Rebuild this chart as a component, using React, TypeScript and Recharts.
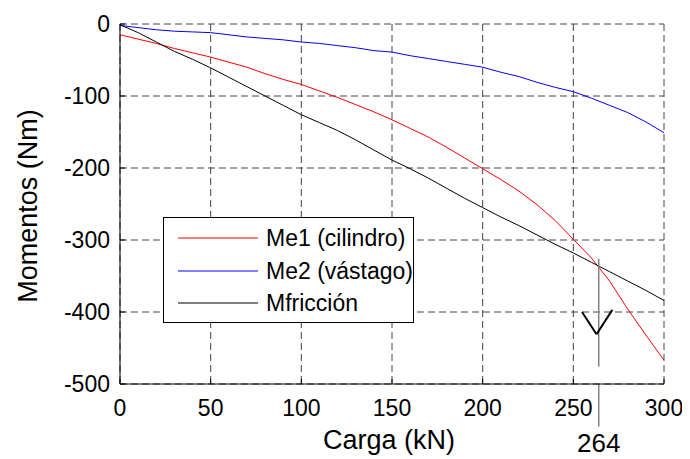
import React from 'react';
import {
  LineChart,
  Line,
  XAxis,
  YAxis,
  CartesianGrid,
  Legend,
  ReferenceLine,
  ReferenceDot,
} from 'recharts';

const carga = [0, 10, 20, 30, 40, 50, 60, 70, 80, 90, 100, 110, 120, 130, 140, 150, 160, 170, 180, 190, 200, 210, 220, 230, 240, 250, 260, 270, 280, 290, 300];
const me1 = [-15, -21, -27, -34, -40, -46, -53, -60, -69, -77, -84, -93, -102, -112, -122, -133, -145, -157, -171, -186, -201, -216, -232, -251, -273, -299, -325, -357, -396, -432, -467];
const me2 = [-2, -5, -8, -10, -11, -12, -15, -18, -20, -22, -25, -27, -30, -33, -37, -39, -44, -48, -52, -56, -60, -67, -73, -81, -88, -94, -103, -113, -123, -136, -151];
const mfric = [-1, -12, -25, -38, -49, -61, -74, -87, -100, -113, -126, -137, -148, -161, -175, -189, -201, -214, -228, -242, -255, -268, -280, -293, -306, -318, -331, -344, -357, -370, -384];

const xTicks = [0, 50, 100, 150, 200, 250, 300];
const yTicks = [-500, -400, -300, -200, -100, 0];
const seriesNames = ['Me1 (cilindro)', 'Me2 (vástago)', 'Mfricción'];
const markX = 264;
const markLabel = '264';

const data = carga.map((x, i) => ({ x, me1: me1[i], me2: me2[i], mf: mfric[i] }));

const FONT = '"Liberation Sans", Arial, sans-serif';

const LegendBox = (props: any) => {
  const payload = props.payload || [];
  return (
    <div
      style={{
        width: 249,
        height: 104,
        border: '1px solid #000',
        background: '#fff',
        position: 'relative',
        fontFamily: FONT,
        fontSize: 23,
        color: '#000',
      }}
    >
      {payload.map((p: any, i: number) => (
        <div
          key={i}
          style={{
            position: 'absolute',
            left: 0,
            top: 20 + i * 32.5 - 14,
            height: 28,
            display: 'flex',
            alignItems: 'center',
          }}
        >
          <svg width={102} height={28} style={{ display: 'block' }}>
            <line x1={14} x2={94} y1={14} y2={14} stroke={p.color} strokeWidth={1.2} />
          </svg>
          <span style={{ whiteSpace: 'nowrap', lineHeight: '28px' }}>{p.value}</span>
        </div>
      ))}
    </div>
  );
};

export default function App() {
  const tickStyle = { fontSize: 23, fill: '#000', fontFamily: FONT };
  return (
    <div style={{ width: 682, height: 451 }}>
      <LineChart
        width={682}
        height={451}
        data={data}
        margin={{ top: 16, right: 26, bottom: 0, left: 0 }}
      >
        <CartesianGrid stroke="#444" strokeDasharray="7 4" strokeWidth={1} />
        <XAxis
          dataKey="x"
          type="number"
          domain={[0, 300]}
          ticks={xTicks}
          allowDataOverflow
          height={75}
          tickSize={-5}
          tickMargin={21}
          tick={tickStyle}
          stroke="#000"
          tickLine={{ stroke: '#000' }}
          axisLine={{ stroke: '#000' }}
          label={{
            content: (p: any) => {
              const vb = p.viewBox || {};
              return (
                <text
                  x={(vb.x || 0) + (vb.width || 0) / 2 - 3}
                  y={441}
                  textAnchor="middle"
                  fontSize={27}
                  fontFamily={FONT}
                  fill="#000"
                >
                  Carga (kN)
                </text>
              );
            },
          }}
        />
        <XAxis
          xAxisId="top"
          orientation="top"
          dataKey="x"
          type="number"
          domain={[0, 300]}
          ticks={xTicks}
          allowDataOverflow
          height={0}
          tickSize={-5}
          tick={false}
          stroke="#000"
        />
        <YAxis
          type="number"
          domain={[-500, 0]}
          ticks={yTicks}
          allowDataOverflow
          width={112}
          tickSize={-5}
          tickMargin={15}
          tick={tickStyle}
          stroke="#000"
          label={{
            content: () => (
              <text
                x={20}
                y={198}
                textAnchor="middle"
                dominantBaseline="central"
                transform="rotate(-90 20 198)"
                fontSize={27}
                fontFamily={FONT}
                fill="#000"
              >
                Momentos (Nm)
              </text>
            ),
          }}
        />
        <YAxis
          yAxisId="right"
          orientation="right"
          type="number"
          domain={[-500, 0]}
          ticks={yTicks}
          allowDataOverflow
          width={0}
          tickSize={-5}
          tick={false}
          stroke="#000"
        />
        <Line dataKey="me1" name={seriesNames[0]} stroke="#ff0000" strokeWidth={1} dot={false} type="linear" isAnimationActive={false} />
        <Line dataKey="me2" name={seriesNames[1]} stroke="#0000ff" strokeWidth={1} dot={false} type="linear" isAnimationActive={false} />
        <Line dataKey="mf" name={seriesNames[2]} stroke="#000000" strokeWidth={1} dot={false} type="linear" isAnimationActive={false} />
        <ReferenceLine
          segment={[{ x: markX, y: -326 }, { x: markX, y: -476 }]}
          stroke="#808080"
          strokeWidth={1.5}
        />
        <ReferenceLine
          segment={[{ x: markX, y: -500 }, { x: markX, y: -559 }]}
          stroke="#808080"
          strokeWidth={1.5}
          ifOverflow="visible"
        />
        <ReferenceLine
          segment={[{ x: 254.8, y: -400 }, { x: 262.8, y: -431 }]}
          stroke="#000"
          strokeWidth={2}
        />
        <ReferenceLine
          segment={[{ x: 271.5, y: -397 }, { x: 262.8, y: -431 }]}
          stroke="#000"
          strokeWidth={2}
        />
        <ReferenceDot
          x={markX}
          y={-582}
          r={0}
          fill="none"
          stroke="none"
          ifOverflow="visible"
          label={{ value: markLabel, position: 'center', fontSize: 26, fontFamily: FONT, fill: '#000' }}
        />
        <Legend
          layout="vertical"
          align="center"
          verticalAlign="middle"
          content={<LegendBox />}
          wrapperStyle={{ position: 'absolute', left: 155, top: 209, width: 251, height: 106 }}
        />
      </LineChart>
    </div>
  );
}
